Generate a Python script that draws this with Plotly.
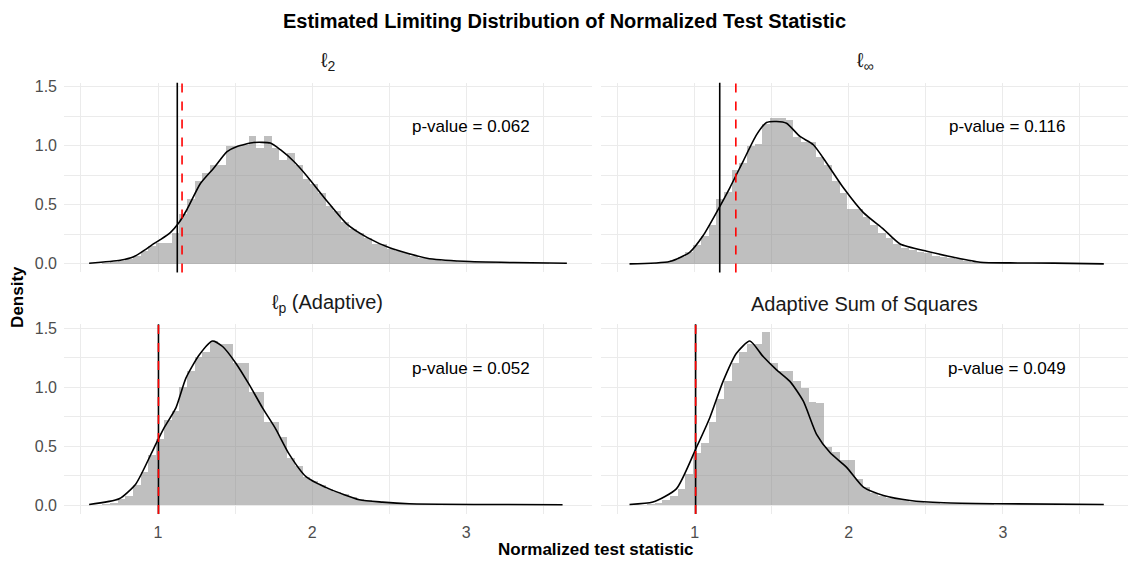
import plotly.graph_objects as go
from plotly.subplots import make_subplots

# ---------------- data ----------------
bin_start = 0.588
bin_width = 0.05

panel_titles = ["ℓ<sub>2</sub>", "ℓ<sub>∞</sub>", "ℓ<sub>p</sub> (Adaptive)", "Adaptive Sum of Squares"]
p_values = ["0.062", "0.116", "0.052", "0.049"]

hist_l2 = [0.005, 0.01, 0.015, 0.025, 0.04, 0.07, 0.11, 0.15, 0.18, 0.18,
           0.26, 0.42, 0.55, 0.70, 0.77, 0.84, 0.84, 1.00, 1.00, 1.01,
           1.084, 0.98, 1.084, 0.98, 0.88, 0.94, 0.84, 0.72, 0.68, 0.60,
           0.49, 0.45, 0.36, 0.30, 0.26, 0.22, 0.17, 0.17, 0.13, 0.11,
           0.09, 0.07, 0.055, 0.045, 0.035, 0.03, 0.025, 0.02, 0.02, 0.018,
           0.016, 0.014, 0.012, 0.011, 0.01, 0.009, 0.008, 0.007, 0.006, 0.005, 0.005]
hist_linf = [0.0, 0.003, 0.005, 0.01, 0.02, 0.035, 0.06, 0.10, 0.16, 0.24,
             0.33, 0.55, 0.61, 0.80, 0.86, 1.00, 1.02, 1.19, 1.233, 1.233,
             1.22, 1.08, 1.033, 1.033, 0.91, 0.84, 0.70, 0.60, 0.47, 0.47,
             0.40, 0.33, 0.26, 0.225, 0.17, 0.14, 0.12, 0.10, 0.09, 0.07,
             0.06, 0.05, 0.04, 0.03, 0.02, 0.015, 0.012, 0.01, 0.008, 0.008,
             0.007, 0.006, 0.006, 0.005, 0.005, 0.004, 0.004, 0.003, 0.003, 0.002, 0.002]
hist_lp = [0.003, 0.008, 0.015, 0.05, 0.08, 0.17, 0.28, 0.42, 0.56, 0.72,
           0.80, 1.00, 1.134, 1.25, 1.30, 1.39, 1.36, 1.36, 1.20, 1.20,
           0.96, 0.96, 0.70, 0.70, 0.58, 0.40, 0.33, 0.24, 0.20, 0.17,
           0.14, 0.11, 0.09, 0.07, 0.05, 0.04, 0.03, 0.025, 0.02, 0.015,
           0.012, 0.01, 0.008, 0.007, 0.006, 0.006, 0.005, 0.005, 0.004, 0.004,
           0.004, 0.003, 0.003, 0.003, 0.003, 0.002, 0.002, 0.002, 0.002, 0.002, 0.002]
hist_ass = [0.002, 0.005, 0.01, 0.02, 0.04, 0.08, 0.14, 0.26, 0.44, 0.53,
            0.70, 0.90, 1.05, 1.20, 1.30, 1.364, 1.364, 1.462, 1.204, 1.134,
            1.134, 1.05, 0.99, 0.87, 0.868, 0.495, 0.45, 0.378, 0.378, 0.22,
            0.15, 0.10, 0.08, 0.06, 0.05, 0.04, 0.03, 0.025, 0.02, 0.015,
            0.012, 0.01, 0.009, 0.008, 0.007, 0.006, 0.006, 0.005, 0.005, 0.004,
            0.004, 0.004, 0.003, 0.003, 0.003, 0.003, 0.002, 0.002, 0.002, 0.002, 0.002]

dens_l2_x = [0.553, 0.755, 0.842, 0.90, 0.961, 1.015, 1.08, 1.134, 1.188, 1.275, 1.361, 1.448, 1.513,
             1.621, 1.729, 1.794, 1.88, 1.967, 2.096, 2.226, 2.356, 2.507, 2.745, 2.983, 3.307, 3.653]
dens_l2_y = [0.005, 0.03, 0.06, 0.105, 0.16, 0.205, 0.265, 0.345, 0.46, 0.68, 0.81, 0.95, 0.994,
             1.027, 1.022, 0.966, 0.868, 0.742, 0.532, 0.336, 0.224, 0.134, 0.048, 0.022, 0.011, 0.005]
dens_linf_x = [0.577, 0.837, 0.967, 1.054, 1.141, 1.228, 1.314, 1.401, 1.466, 1.531, 1.596,
               1.683, 1.77, 1.856, 1.965, 2.095, 2.225, 2.333, 2.506, 2.68, 2.853, 3.048, 3.33, 3.655]
dens_linf_y = [0.0, 0.02, 0.098, 0.238, 0.434, 0.644, 0.868, 1.092, 1.196, 1.205, 1.19,
               1.078, 1.008, 0.854, 0.644, 0.434, 0.294, 0.168, 0.106, 0.056, 0.014, 0.008, 0.006, 0.0]
dens_lp_x = [0.553, 0.748, 0.856, 0.975, 1.04, 1.116, 1.181, 1.267, 1.354, 1.419, 1.505,
             1.592, 1.678, 1.765, 1.851, 1.96, 2.111, 2.306, 2.457, 2.63, 3.063, 3.625]
dens_lp_y = [0.008, 0.056, 0.182, 0.49, 0.658, 0.826, 1.078, 1.274, 1.392, 1.345, 1.204,
             1.022, 0.826, 0.644, 0.434, 0.244, 0.14, 0.048, 0.028, 0.014, 0.008, 0.006]
dens_ass_x = [0.577, 0.729, 0.881, 1.011, 1.098, 1.184, 1.271, 1.358, 1.444, 1.531, 1.618,
              1.705, 1.791, 1.878, 1.986, 2.095, 2.225, 2.398, 2.615, 2.94, 3.655]
dens_ass_y = [0.008, 0.028, 0.14, 0.49, 0.742, 1.05, 1.288, 1.392, 1.26, 1.148, 1.05,
              0.882, 0.602, 0.448, 0.322, 0.154, 0.084, 0.042, 0.022, 0.014, 0.008]

observed_stat = [1.125, 1.1625, 1.003, 1.006]
critical_value = [1.156, 1.267, 1.003, 1.006]

x_ticks = [1, 2, 3]
y_ticks = [0.0, 0.5, 1.0, 1.5]
y_tick_text = ["0.0", "0.5", "1.0", "1.5"]

# ---------------- figure ----------------
FONT = "Liberation Sans, Arial, sans-serif"
hists = [hist_l2, hist_linf, hist_lp, hist_ass]
dens = [(dens_l2_x, dens_l2_y), (dens_linf_x, dens_linf_y),
        (dens_lp_x, dens_lp_y), (dens_ass_x, dens_ass_y)]

fig = make_subplots(rows=2, cols=2)
pos = [(1, 1), (1, 2), (2, 1), (2, 2)]
for i, (r, c) in enumerate(pos):
    h = hists[i]
    centers = [bin_start + bin_width * (k + 0.5) for k in range(len(h))]
    fig.add_trace(go.Bar(x=centers, y=h, width=bin_width,
                         marker=dict(color="rgba(127,127,127,0.5)", line=dict(width=0)),
                         showlegend=False, hoverinfo="skip"), row=r, col=c)
    fig.add_trace(go.Scatter(x=dens[i][0], y=dens[i][1], mode="lines",
                             line=dict(color="black", width=1.6, shape="spline", smoothing=0.6),
                             showlegend=False, hoverinfo="skip"), row=r, col=c)

xdom = [[64 / 1129, 591.7 / 1129], [600.7 / 1129, 1128.3 / 1129]]
ydom = [[1 - 270.4 / 561, 1 - 79.3 / 561], [1 - 513.7 / 561, 1 - 322.6 / 561]]
grid = "#EBEBEB"
xr = [0.39, 3.814]
yr = [-0.073, 1.533]
axes = {}
for i, (r, c) in enumerate(pos):
    sfx = "" if i == 0 else str(i + 1)
    axes["xaxis" + sfx] = dict(
        domain=xdom[c - 1], range=xr, tickvals=x_ticks, ticktext=[str(t) for t in x_ticks],
        showticklabels=(r == 2), showgrid=True, gridcolor=grid, gridwidth=1.4,
        zeroline=False, showline=False, ticks="", ticklabelstandoff=7,
        minor=dict(tickvals=[0.5, 1.5, 2.5, 3.5], showgrid=True, gridcolor=grid, gridwidth=0.8),
        tickfont=dict(family=FONT, size=16, color="#4D4D4D"), fixedrange=True)
    axes["yaxis" + sfx] = dict(
        domain=ydom[r - 1], range=yr, tickvals=y_ticks, ticktext=y_tick_text,
        showticklabels=(c == 1), showgrid=True, gridcolor=grid, gridwidth=1.4,
        zeroline=False, showline=False, ticks="", ticklabelstandoff=6,
        minor=dict(tickvals=[0.25, 0.75, 1.25], showgrid=True, gridcolor=grid, gridwidth=0.8),
        tickfont=dict(family=FONT, size=16, color="#4D4D4D"), fixedrange=True)

shapes = []
annotations = []
for i, (r, c) in enumerate(pos):
    sfx = "" if i == 0 else str(i + 1)
    shapes.append(dict(type="line", xref="x" + sfx, yref="y" + sfx + " domain",
                       x0=observed_stat[i], x1=observed_stat[i], y0=0, y1=1,
                       line=dict(color="black", width=1.6), layer="above"))
    shapes.append(dict(type="line", xref="x" + sfx, yref="y" + sfx + " domain",
                       x0=critical_value[i], x1=critical_value[i], y0=0, y1=1,
                       line=dict(color="red", width=1.6, dash="dash"), layer="above"))
    annotations.append(dict(x=3.03, y=1.16, xref="x" + sfx, yref="y" + sfx,
                            xanchor="center", yanchor="middle",
                            text="p-value = " + p_values[i], showarrow=False,
                            font=dict(family=FONT, size=17, color="black")))
    xc = (xdom[c - 1][0] + xdom[c - 1][1]) / 2
    yc = 1 - 58 / 561 if r == 1 else 1 - 302 / 561
    annotations.append(dict(x=xc, y=yc, xref="paper", yref="paper", text=panel_titles[i],
                            xanchor="center", yanchor="middle",
                            showarrow=False, font=dict(family=FONT, size=20, color="#1A1A1A")))

annotations.append(dict(x=0.5, y=1 - 17 / 561, xref="paper", yref="paper",
                        xanchor="center", yanchor="middle",
                        text="<b>Estimated Limiting Distribution of Normalized Test Statistic</b>",
                        showarrow=False, font=dict(family=FONT, size=20, color="black")))
annotations.append(dict(x=(64 + 1128) / 2 / 1129, y=1 - 549 / 561, xref="paper", yref="paper",
                        xanchor="center", yanchor="middle",
                        text="<b>Normalized test statistic</b>", showarrow=False,
                        font=dict(family=FONT, size=17, color="black")))
annotations.append(dict(x=18 / 1129, y=1 - 295 / 561, xref="paper", yref="paper",
                        xanchor="center", yanchor="middle",
                        text="<b>Density</b>", showarrow=False, textangle=-90,
                        font=dict(family=FONT, size=17, color="black")))

fig.update_layout(width=1129, height=561, margin=dict(l=0, r=0, t=0, b=0),
                  plot_bgcolor="white", paper_bgcolor="white", bargap=0,
                  shapes=shapes, annotations=annotations, **axes)
fig.write_html("out.html")
